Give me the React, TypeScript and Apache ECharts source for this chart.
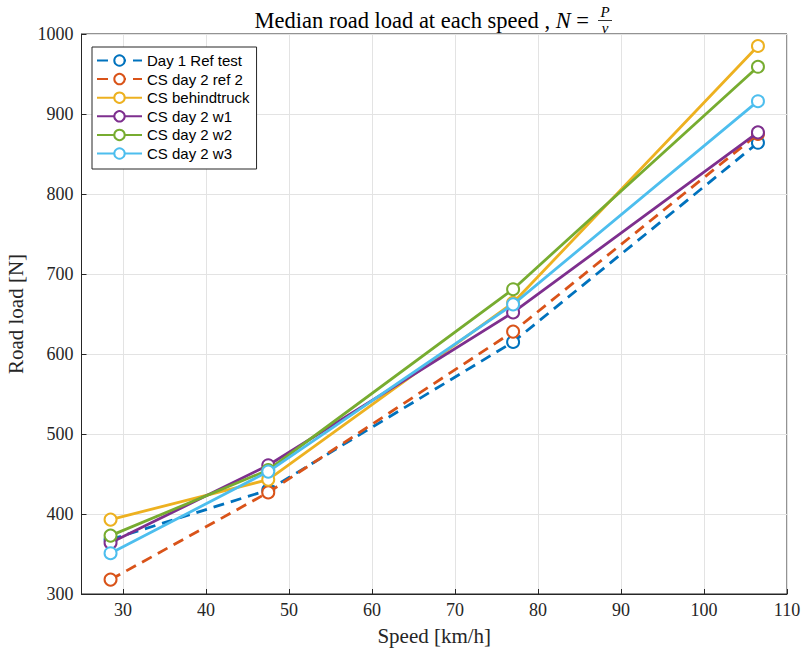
import React, { useEffect, useRef } from "react";
import * as echarts from "echarts";

const speeds = [28.5, 47.5, 77, 106.5];
const seriesNames = [
  "Day 1 Ref test",
  "CS day 2 ref 2",
  "CS behindtruck",
  "CS day 2 w1",
  "CS day 2 w2",
  "CS day 2 w3",
];
const day1Ref = [368, 430, 615, 864];
const day2Ref2 = [318, 427, 628, 875];
const behindTruck = [393, 443, 664, 985];
const day2W1 = [364, 461, 652, 877];
const day2W2 = [373, 455, 681, 959];
const day2W3 = [351, 453, 662, 916];
const xTicks = [30, 40, 50, 60, 70, 80, 90, 100, 110];
const colors = ["#0072BD", "#D95319", "#EDB120", "#7E2F8E", "#77AC30", "#4DBEEE"];
const dashed = [true, true, false, false, false, false];

export default function App() {
  const ref = useRef<HTMLDivElement>(null);
  useEffect(() => {
    if (!ref.current) return;
    const chart = echarts.init(ref.current, undefined, { renderer: "svg" });
    const allValues = [day1Ref, day2Ref2, behindTruck, day2W1, day2W2, day2W3];
    const serif = "Liberation Serif";
    const axisColor = "#262626";
    chart.setOption({
      animation: false,
      backgroundColor: "#ffffff",
      grid: {
        left: 81.5,
        right: 15,
        top: 34,
        bottom: 59,
        show: true,
        borderColor: axisColor,
        borderWidth: 1,
        containLabel: false,
        outerBoundsMode: "none",
      },
      graphic: [
        {
          type: "text",
          x: 589,
          y: 20,
          style: {
            text: "{a|Median road load at each speed , }{i|N}{a| =}",
            align: "right",
            verticalAlign: "middle",
            fill: "#000",
            rich: {
              a: { fontFamily: serif, fontSize: 22.5, fill: "#000" },
              i: { fontFamily: serif, fontSize: 22.5, fontStyle: "italic", fill: "#000" },
            },
          },
        },
        {
          type: "text",
          x: 605,
          y: 12,
          style: {
            text: "P",
            align: "center",
            verticalAlign: "middle",
            fontFamily: serif,
            fontStyle: "italic",
            fontSize: 15,
            fill: "#000",
          },
        },
        {
          type: "line",
          shape: { x1: 598, y1: 20.5, x2: 612, y2: 20.5 },
          style: { stroke: "#000", lineWidth: 0.8 },
        },
        {
          type: "text",
          x: 605,
          y: 28,
          style: {
            text: "v",
            align: "center",
            verticalAlign: "middle",
            fontFamily: serif,
            fontStyle: "italic",
            fontSize: 15,
            fill: "#000",
          },
        },
      ],
      legend: {
        orient: "vertical",
        left: 92,
        top: 47,
        data: seriesNames,
        itemWidth: 45,
        itemHeight: 13,
        itemGap: 3.6,
        backgroundColor: "#ffffff",
        borderColor: axisColor,
        borderWidth: 1,
        borderRadius: 0,
        padding: [6, 7, 8, 4],
        textStyle: { fontFamily: "Liberation Sans", fontSize: 15, color: "#000" },
      },
      xAxis: {
        type: "value",
        min: 25,
        max: 110,
        name: "Speed [km/h]",
        nameLocation: "middle",
        nameGap: 31,
        nameTextStyle: { fontFamily: serif, fontSize: 21, color: axisColor },
        axisLine: { show: true, onZero: false, lineStyle: { color: axisColor, width: 1 } },
        axisTick: { show: true, inside: true, length: 5, customValues: xTicks, lineStyle: { color: axisColor } },
        axisLabel: { customValues: xTicks, fontFamily: serif, fontSize: 18, color: axisColor, margin: 7 },
        splitLine: { show: true, lineStyle: { color: "#e3e3e3", width: 1 } },
      },
      yAxis: {
        type: "value",
        min: 300,
        max: 1000,
        interval: 100,
        name: "Road load [N]",
        nameLocation: "middle",
        nameGap: 53,
        nameTextStyle: { fontFamily: serif, fontSize: 21, color: axisColor },
        axisLine: { show: true, onZero: false, lineStyle: { color: axisColor, width: 1 } },
        axisTick: { show: true, inside: true, length: 5, lineStyle: { color: axisColor } },
        axisLabel: { fontFamily: serif, fontSize: 18, color: axisColor, margin: 8, formatter: (v: number) => String(v) },
        splitLine: { show: true, lineStyle: { color: "#e3e3e3", width: 1 } },
      },
      series: seriesNames.map((name, i) => ({
        name,
        type: "line",
        data: speeds.map((s, j) => [s, allValues[i][j]]),
        symbol: "emptyCircle",
        symbolSize: 12,
        showAllSymbol: true,
        color: colors[i],
        lineStyle: { color: colors[i], width: 2.8, type: dashed[i] ? [11, 7] : "solid" },
        itemStyle: { color: colors[i], borderColor: colors[i], borderWidth: 2.6 },
        emphasis: { disabled: true },
        z: 2 + i,
      })),
    });
    return () => chart.dispose();
  }, []);
  return <div ref={ref} style={{ width: 802, height: 653, position: "fixed", left: 0, top: 0 }} />;
}
